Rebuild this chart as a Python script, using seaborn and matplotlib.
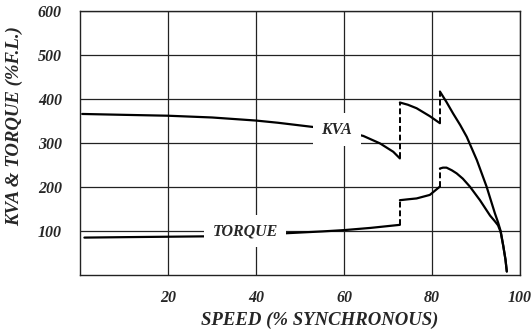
import matplotlib
matplotlib.use("Agg")
import matplotlib.pyplot as plt
import seaborn as sns
import pandas as pd

# ---- data ----
kva_speed_1 = [0.5, 10, 20, 30, 40, 45, 50, 55, 60, 64.4, 68.2, 71.2, 72.7]
kva_value_1 = [366, 364, 362, 358, 351, 346, 340, 334, 327, 316, 299, 280, 265]
kva_jump_1_speed = [72.7, 72.7]
kva_jump_1_value = [265, 392]
kva_speed_2 = [72.7, 74.5, 76.5, 79.5, 81.8]
kva_value_2 = [392, 387, 379, 361, 345]
kva_jump_2_speed = [81.8, 81.8]
kva_jump_2_value = [345, 417]
kva_speed_3 = [81.8, 83.3, 84.8, 86.4, 87.9, 90.2, 92.4, 94.3, 95.0, 95.6, 96.2, 96.7, 97.0]
kva_value_3 = [417, 393, 367, 341, 314, 261, 201, 140, 120, 100, 66, 35, 8]

torque_speed_1 = [1, 10, 20, 30, 40, 47, 55, 60, 66, 72.7]
torque_value_1 = [85, 86, 87, 88, 91, 95, 99, 102, 107, 114]
torque_jump_1_speed = [72.7, 72.7]
torque_jump_1_value = [114, 170]
torque_speed_2 = [72.7, 74.5, 76.5, 79.5, 81.8]
torque_value_2 = [170, 172, 174, 182, 201]
torque_jump_2_speed = [81.8, 81.8]
torque_jump_2_value = [201, 242]
torque_speed_3 = [81.8, 82.5, 83.3, 84.5, 85.6, 87.0, 88.6, 90.9, 93.2, 94.3, 95.0, 95.6, 96.2, 96.7, 97.0]
torque_value_3 = [242, 244, 244, 238, 231, 219, 201, 170, 135, 122, 113, 98, 66, 35, 8]

x_ticks = [20, 40, 60, 80, 100]
y_ticks = [100, 200, 300, 400, 500, 600]
x_label = "SPEED (% SYNCHRONOUS)"
y_label = "KVA & TORQUE (%F.L.)"
curve_labels = {"KVA": (58.4, 330), "TORQUE": (37.5, 100)}

# ---- style ----
sns.set_style("white")
plt.rcParams["font.family"] = ["Liberation Serif", "DejaVu Serif"]

fig = plt.figure(figsize=(5.31, 3.32), dpi=100)
ax = fig.add_axes([80 / 531, 1 - 275 / 332, 440 / 531, 264 / 332])

solid = [
    (kva_speed_1, kva_value_1), (kva_speed_2, kva_value_2), (kva_speed_3, kva_value_3),
    (torque_speed_1, torque_value_1), (torque_speed_2, torque_value_2),
    (torque_speed_3, torque_value_3),
]
dashed = [
    (kva_jump_1_speed, kva_jump_1_value), (kva_jump_2_speed, kva_jump_2_value),
    (torque_jump_1_speed, torque_jump_1_value), (torque_jump_2_speed, torque_jump_2_value),
]
for xs, ys in solid:
    df = pd.DataFrame({"x": xs, "y": ys})
    sns.lineplot(data=df, x="x", y="y", ax=ax, sort=False, estimator=None,
                 color="black", linewidth=1.6, zorder=3)
for xs, ys in dashed:
    df = pd.DataFrame({"x": xs, "y": ys})
    sns.lineplot(data=df, x="x", y="y", ax=ax, sort=False, estimator=None,
                 color="black", linewidth=1.4, linestyle=(0, (3, 1.5)), zorder=3)

ax.set_xlim(0, 100)
ax.set_ylim(0, 600)
ax.set_xticks(x_ticks)
ax.set_yticks(y_ticks)
ax.grid(True, color="#222222", linewidth=0.9)
ax.set_axisbelow(True)
for s in ax.spines.values():
    s.set_color("#222222")
    s.set_linewidth(1.0)

ax.tick_params(axis="both", length=0, labelsize=11.5)
ax.tick_params(axis="x", pad=11)
ax.tick_params(axis="y", pad=13)
for lab in ax.get_xticklabels() + ax.get_yticklabels():
    lab.set_fontweight("bold")
    lab.set_fontstyle("italic")

ax.set_xlabel(x_label, fontsize=13.5, fontweight="bold", fontstyle="italic")
ax.set_ylabel(y_label, fontsize=13.5, fontweight="bold", fontstyle="italic")
ax.xaxis.set_label_coords(0.545, -0.14)
ax.yaxis.set_label_coords(-0.13, 0.565)

for txt, (xx, yy) in curve_labels.items():
    ax.text(xx, yy, txt, fontsize=11.5, fontweight="bold", fontstyle="italic",
            ha="center", va="center", zorder=5,
            bbox=dict(facecolor="white", edgecolor="none", pad=6))

fig.savefig("out.png", dpi=100)
